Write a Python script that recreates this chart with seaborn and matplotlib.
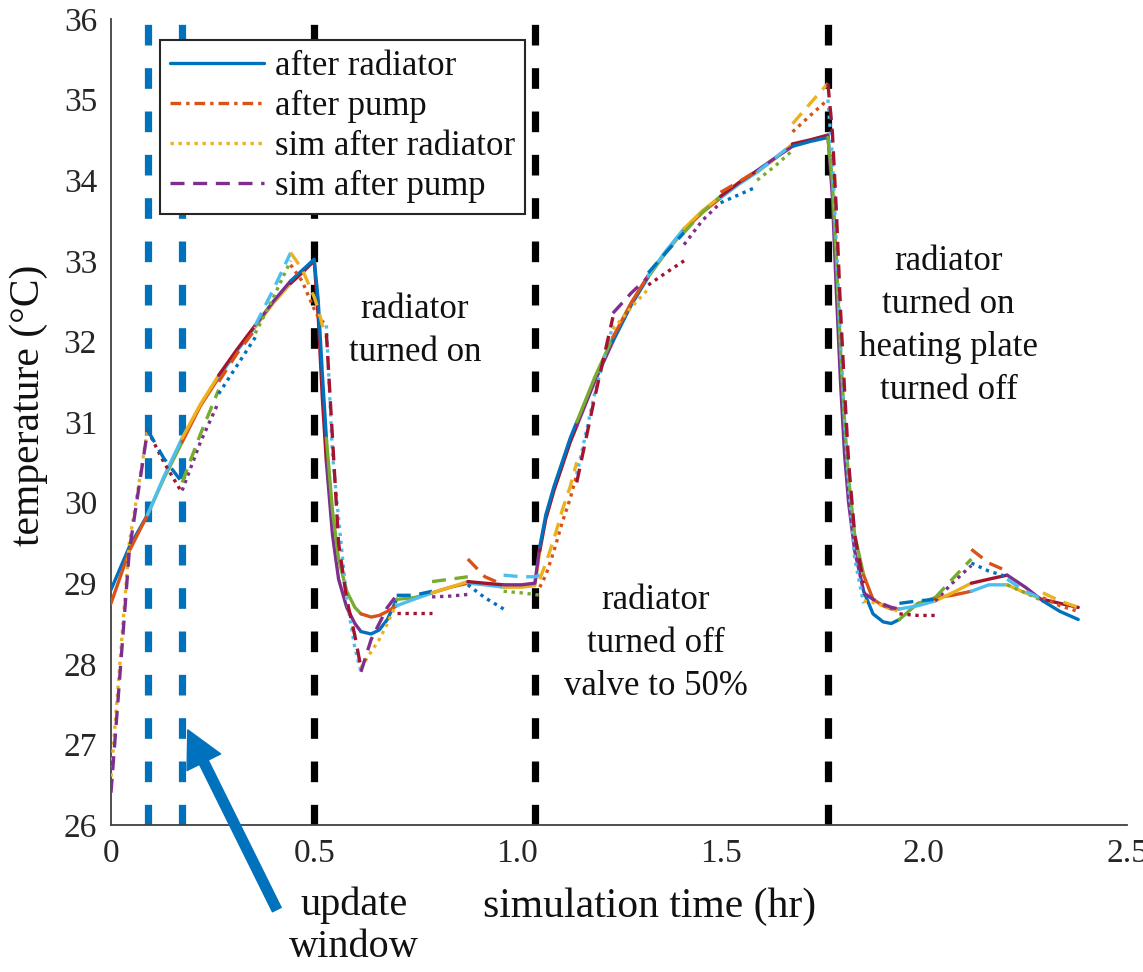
import numpy as np
import matplotlib
matplotlib.use("Agg")
import matplotlib.pyplot as plt
import seaborn as sns
from matplotlib.lines import Line2D

# ---------------- data ----------------
# update-window boundaries (hr)
update_t = [0, 0.09, 0.175, 0.265, 0.355, 0.442, 0.53, 0.615, 0.703, 0.79, 0.878,
            0.966, 1.055, 1.146, 1.235, 1.322, 1.41, 1.5, 1.59, 1.677, 1.764, 1.852,
            1.94, 2.028, 2.117, 2.205, 2.293, 2.38]

# measured time grid (hr)
meas_t = [0, 0.045, 0.09, 0.13, 0.175, 0.22, 0.265, 0.31, 0.355, 0.40,
          0.442, 0.47, 0.50, 0.51, 0.52, 0.53, 0.545, 0.56, 0.58, 0.60,
          0.615, 0.64, 0.66, 0.68, 0.703, 0.745, 0.79, 0.835, 0.878, 0.92,
          0.966, 1.01, 1.043, 1.055, 1.07, 1.09, 1.11, 1.13, 1.146, 1.19,
          1.235, 1.28, 1.322, 1.365, 1.41, 1.455, 1.5, 1.545, 1.59, 1.635,
          1.677, 1.72, 1.764, 1.775, 1.785, 1.795, 1.805, 1.815, 1.83, 1.852,
          1.875, 1.90, 1.92, 1.94, 1.985, 2.028, 2.07, 2.117, 2.16, 2.205,
          2.25, 2.293, 2.335, 2.38]

# measured temperature after radiator (deg C)
meas_rad = [28.92, 29.45, 29.85, 30.30, 30.75, 31.20, 31.55, 31.88, 32.18, 32.48,
            32.72, 32.85, 33.00, 32.30, 31.30, 30.50, 29.60, 29.05, 28.70, 28.50,
            28.40, 28.37, 28.42, 28.55, 28.80, 28.82, 28.88, 28.95, 29.00, 28.98,
            28.95, 28.95, 28.97, 29.40, 29.80, 30.15, 30.45, 30.75, 30.95, 31.50,
            32.00, 32.45, 32.80, 33.10, 33.38, 33.60, 33.78, 33.95, 34.10, 34.27,
            34.45, 34.50, 34.56, 33.80, 32.60, 31.50, 30.60, 30.00, 29.40, 28.90,
            28.62, 28.52, 28.50, 28.55, 28.75, 28.82, 28.85, 28.90, 28.98, 28.98,
            28.88, 28.80, 28.75, 28.70]

# measured temperature after pump (deg C)
meas_pump = [28.75, 29.40, 29.85, 30.32, 30.80, 31.22, 31.58, 31.90, 32.20, 32.50,
             32.75, 32.88, 33.02, 32.50, 31.60, 30.80, 29.90, 29.30, 28.90, 28.70,
             28.62, 28.58, 28.60, 28.65, 28.72, 28.80, 28.88, 28.95, 29.02, 29.00,
             28.98, 28.98, 29.00, 29.45, 29.85, 30.20, 30.50, 30.80, 31.00, 31.55,
             32.05, 32.48, 32.82, 33.12, 33.40, 33.62, 33.80, 33.97, 34.12, 34.28,
             34.42, 34.48, 34.53, 34.00, 33.00, 31.90, 31.00, 30.30, 29.60, 29.10,
             28.80, 28.72, 28.68, 28.68, 28.72, 28.78, 28.88, 29.00, 29.05, 29.10,
             28.95, 28.78, 28.65, 28.55]

# simulated after radiator: values on the time grid (window runs) ...
sim_rad = [26.60, 29.50, 30.90, 30.50, 30.15, 30.75, 31.35, 31.70, 32.10, 32.55,
           32.95, 32.75, 32.40, 32.30, 32.25, 32.20, 30.60, 29.80, 28.80, 28.20,
           27.95, 28.15, 28.30, 28.50, 28.63, 28.63, 28.83, 28.84, 28.98, 28.82,
           28.90, 28.88, 28.86, 28.95, 29.10, 29.40, 29.75, 30.05, 30.35, 31.35,
           32.15, 32.42, 32.70, 32.85, 33.20, 33.50, 33.72, 33.82, 34.00, 34.18,
           34.60, 34.80, 35.00, 34.30, 33.20, 32.00, 31.00, 30.20, 29.30, 28.78,
           28.76, 28.72, 28.68, 28.62, 28.60, 28.78, 29.00, 29.25, 29.15, 28.98,
           28.88, 28.82, 28.72, 28.65]
# ... and value reached at the end of each window
sim_rad_end = [30.90, 30.12, 31.25, 32.05, 33.00, 32.20, 27.90, 28.75, 28.63, 28.86,
               28.68, 28.85, 30.35, 32.20, 32.65, 33.00, 33.72, 33.92, 34.37, 35.00,
               28.75, 28.65, 28.60, 29.22, 29.08, 28.78, 28.65]

# simulated after pump
sim_pump = [26.40, 29.40, 30.90, 30.55, 30.25, 30.85, 31.50, 31.85, 32.20, 32.65,
            33.10, 32.90, 32.55, 32.40, 32.20, 32.10, 30.80, 29.50, 28.80, 28.35,
            27.90, 28.30, 28.50, 28.70, 28.85, 28.85, 29.02, 29.05, 29.30, 29.08,
            29.10, 29.08, 29.08, 29.05, 29.25, 29.55, 29.90, 30.20, 30.25, 31.30,
            32.35, 32.60, 32.85, 33.10, 33.35, 33.60, 33.85, 33.98, 34.10, 34.28,
            34.70, 34.95, 35.20, 34.60, 33.60, 32.40, 31.40, 30.50, 29.60, 28.88,
            28.80, 28.74, 28.70, 28.75, 28.78, 28.82, 29.05, 29.42, 29.25, 29.05,
            28.90, 28.88, 28.78, 28.70]
sim_pump_end = [30.90, 30.25, 31.40, 32.15, 33.10, 32.05, 27.95, 28.85, 28.90, 29.08,
                28.98, 29.10, 30.50, 32.30, 32.80, 33.35, 33.80, 34.12, 34.45, 35.20,
                29.00, 28.68, 28.80, 29.30, 29.15, 28.80, 28.70]

# event markers (hr)
update_lines = [0.09, 0.175]
event_lines = [0.5, 1.043, 1.764]

legend_labels = ["after radiator", "after pump", "sim after radiator", "sim after pump"]
x_ticks = [0, 0.5, 1.0, 1.5, 2.0, 2.5]
x_ticklabels = ["0", "0.5", "1.0", "1.5", "2.0", "2.5"]
y_ticks = list(range(26, 37))

# ---------------- styling ----------------
C = ['#0072BD', '#D95319', '#EDB120', '#7E2F8E', '#77AC30', '#4DBEEE', '#A2142F']
LW = 2.4
DOT = (0, (1, 1.4))
DASH = (0, (4.2, 2.6))
DASHDOT = (0, (3.2, 1.5, 1, 1.5))

sns.set_theme(style="white")
plt.rcParams['font.family'] = ['Liberation Serif', 'DejaVu Serif']
plt.rcParams['axes.unicode_minus'] = False

W, H = 1143, 972
fig = plt.figure(figsize=(W / 100, H / 100), dpi=100)
fig.patch.set_facecolor('white')
ax = fig.add_axes([111 / W, 1 - 825 / H, 1016 / W, 806 / H])
ax.set_facecolor('white')

# vertical dashed markers
for xv in update_lines:
    ax.axvline(xv, color=C[0], lw=5.2, linestyle=(0, (2.86, 3.14)), zorder=1)
for xv in event_lines:
    ax.axvline(xv, color='black', lw=5.2, linestyle=(0, (2.86, 3.14)), zorder=1)

mt = np.array(meas_t)
idx = [int(np.argmin(np.abs(mt - u))) for u in update_t]

for w in range(len(update_t) - 1):
    i0, i1 = idx[w], idx[w + 1]
    tt = meas_t[i0:i1 + 1]
    sns.lineplot(x=tt, y=meas_rad[i0:i1 + 1], ax=ax, color=C[(4 * w) % 7],
                 lw=LW, estimator=None, sort=False, zorder=3)
    sns.lineplot(x=tt, y=meas_pump[i0:i1 + 1], ax=ax, color=C[(4 * w + 1) % 7],
                 lw=LW, estimator=None, sort=False, zorder=3)
    sr = list(sim_rad[i0:i1]) + [sim_rad_end[w]]
    sp = list(sim_pump[i0:i1]) + [sim_pump_end[w]]
    sns.lineplot(x=tt, y=sr, ax=ax, color=C[(4 * w + 2) % 7], lw=LW,
                 linestyle=DOT, estimator=None, sort=False, zorder=3)
    sns.lineplot(x=tt, y=sp, ax=ax, color=C[(4 * w + 3) % 7], lw=LW,
                 linestyle=DASH, estimator=None, sort=False, zorder=3)

ax.set_xlim(0, 2.5)
ax.set_ylim(26, 36)
ax.set_xticks(x_ticks)
ax.set_xticklabels(x_ticklabels)
ax.set_yticks(y_ticks)
ax.tick_params(direction='in', length=8, width=1.0, labelsize=24, pad=10,
               colors='#262626', labelcolor='#262626')
for s in ['top', 'right']:
    ax.spines[s].set_visible(False)
for s in ['left', 'bottom']:
    ax.spines[s].set_color('#404040')
    ax.spines[s].set_linewidth(1.3)
ax.grid(False)

ax.set_xlabel("simulation time (hr)", fontsize=30, color='#111111')
ax.xaxis.set_label_coords(0.53, -0.078)
ax.set_ylabel("temperature (°C)", fontsize=30, color='#111111')
ax.yaxis.set_label_coords(-0.062, 0.521)

# legend
handles = [Line2D([], [], color=C[0], lw=LW, linestyle='-'),
           Line2D([], [], color=C[1], lw=LW, linestyle=DASHDOT),
           Line2D([], [], color=C[2], lw=LW, linestyle=DOT),
           Line2D([], [], color=C[3], lw=LW, linestyle=DASH)]
leg = ax.legend(handles, legend_labels, loc='upper left',
                bbox_to_anchor=((160 - 111) / 1016, (825 - 40) / 806),
                borderaxespad=0, fontsize=25, frameon=True, fancybox=False,
                framealpha=1, edgecolor='#262626', labelspacing=0.2,
                handlelength=2.7, handletextpad=0.3, borderpad=0.3)
leg.get_frame().set_linewidth(1.5)
leg.set_zorder(5)
for txt in leg.get_texts():
    txt.set_color('#111111')

# annotations
ax.text(0.748, 32.13, "radiator\nturned on", ha='center', va='center',
        fontsize=25, linespacing=1.4, color='#111111')
ax.text(1.341, 28.25, "radiator\nturned off\nvalve to 50%", ha='center', va='center',
        fontsize=25, linespacing=1.4, color='#111111')
ax.text(2.061, 32.19, "radiator\nturned on\nheating plate\nturned off", ha='center',
        va='center', fontsize=25, linespacing=1.4, color='#111111')
ax.text(0.598, 24.74, "update\nwindow", ha='center', va='center', fontsize=29,
        linespacing=1.18, color='#111111', clip_on=False)
ax.annotate("", xy=(0.189, 27.18), xytext=(0.408, 24.95), xycoords='data',
            textcoords='data', annotation_clip=False,
            arrowprops=dict(facecolor=C[0], edgecolor=C[0], width=7,
                            headwidth=27, headlength=26, shrink=0))

fig.savefig("out.png", dpi=100, facecolor='white')
